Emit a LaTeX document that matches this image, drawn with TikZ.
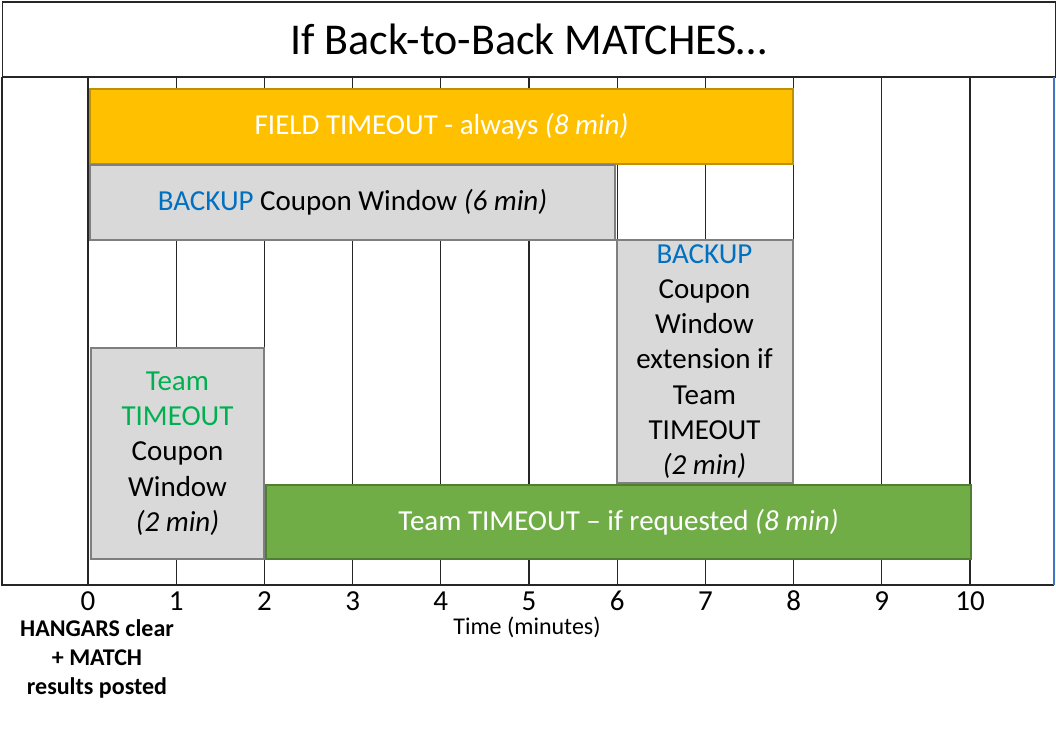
\documentclass[tikz,border=0pt]{standalone}
\usepackage{fontspec}
\setmainfont{Carlito}
\definecolor{gold}{HTML}{FFC000}
\definecolor{goldedge}{HTML}{BF9000}
\definecolor{greyfill}{HTML}{D9D9D9}
\definecolor{greyedge}{HTML}{7F7F7F}
\definecolor{grnfill}{HTML}{70AD47}
\definecolor{grnedge}{HTML}{507E32}
\definecolor{bluetxt}{HTML}{0070C0}
\definecolor{grntxt}{HTML}{00B050}
\definecolor{frameblue}{HTML}{4472C4}
\begin{document}
\begin{tikzpicture}[x=1pt,y=-1pt,
  barbox/.style={draw, line width=2pt, anchor=north west, inner sep=0pt, align=center,
    font=\fontsize{29}{35.2}\selectfont},
  goldbox/.style={barbox, fill=gold, draw=goldedge, text=white},
  greybox/.style={barbox, fill=greyfill, draw=greyedge, text=black},
  greenbox/.style={barbox, fill=grnfill, draw=grnedge, text=white},
  gridline/.style={line width=1.3pt, black!85},
  ticklabel/.style={font=\fontsize{29}{32}\selectfont, anchor=center}
]
\useasboundingbox (0,0) rectangle (1056,730);
\fill[white] (0,0) rectangle (1056,730);
% title
\node[draw=black!85, line width=1.5pt, minimum width=1053pt, minimum height=75pt, anchor=north west, inner sep=0pt,
  font=\fontsize{44}{50}\selectfont] (title) at (1.5,1.5) {If Back-to-Back MATCHES\ldots};
% grid lines
\foreach \i in {0,...,10} {
  \coordinate (t\i) at ({88+88.2*\i},77);
  \coordinate (b\i) at ({88+88.2*\i},585);
  \draw[gridline] (t\i) -- (b\i);
  \node[ticklabel] (n\i) at ({88+88.2*\i},601) {\i};
}
% frame
\coordinate (fl) at (2,77);
\coordinate (fbl) at (2,585);
\coordinate (fbr) at (1054,585);
\coordinate (fr) at (1054,77);
\draw[line width=1.8pt, black!85] (fl) -- (fbl) -- (fbr);
\draw[line width=1.8pt, frameblue] (fr) -- (fbr);
% bars
\node[goldbox, minimum width=703pt, minimum height=75pt] (field) at (89,88)
  {FIELD TIMEOUT - always \textit{(8 min)}};
\node[greybox, minimum width=525pt, minimum height=74pt] (backup) at (89,164.5)
  {\textcolor{bluetxt}{BACKUP} Coupon Window \textit{(6 min)}};
\node[greybox, minimum width=176pt, minimum height=243pt] (ext) at (615.5,239)
  {\textcolor{bluetxt}{BACKUP}\\Coupon\\Window\\extension if\\Team\\TIMEOUT\\\textit{(2 min)}};
\node[greybox, minimum width=173pt, minimum height=211pt] (teamcw) at (90,347)
  {\textcolor{grntxt}{Team}\\\textcolor{grntxt}{TIMEOUT}\\Coupon\\Window\\\textit{(2 min)}};
\node[greenbox, minimum width=705pt, minimum height=74pt] (teamto) at (265,484)
  {Team TIMEOUT -- if requested \textit{(8 min)}};
% axis labels
\node[font=\fontsize{24}{28}\selectfont] (axis) at (527,627) {Time (minutes)};
\node[font=\bfseries\fontsize{24}{29}\selectfont, align=center] (hangars) at (97,659)
  {HANGARS clear\\+ MATCH\\results posted};
\end{tikzpicture}
\end{document}
